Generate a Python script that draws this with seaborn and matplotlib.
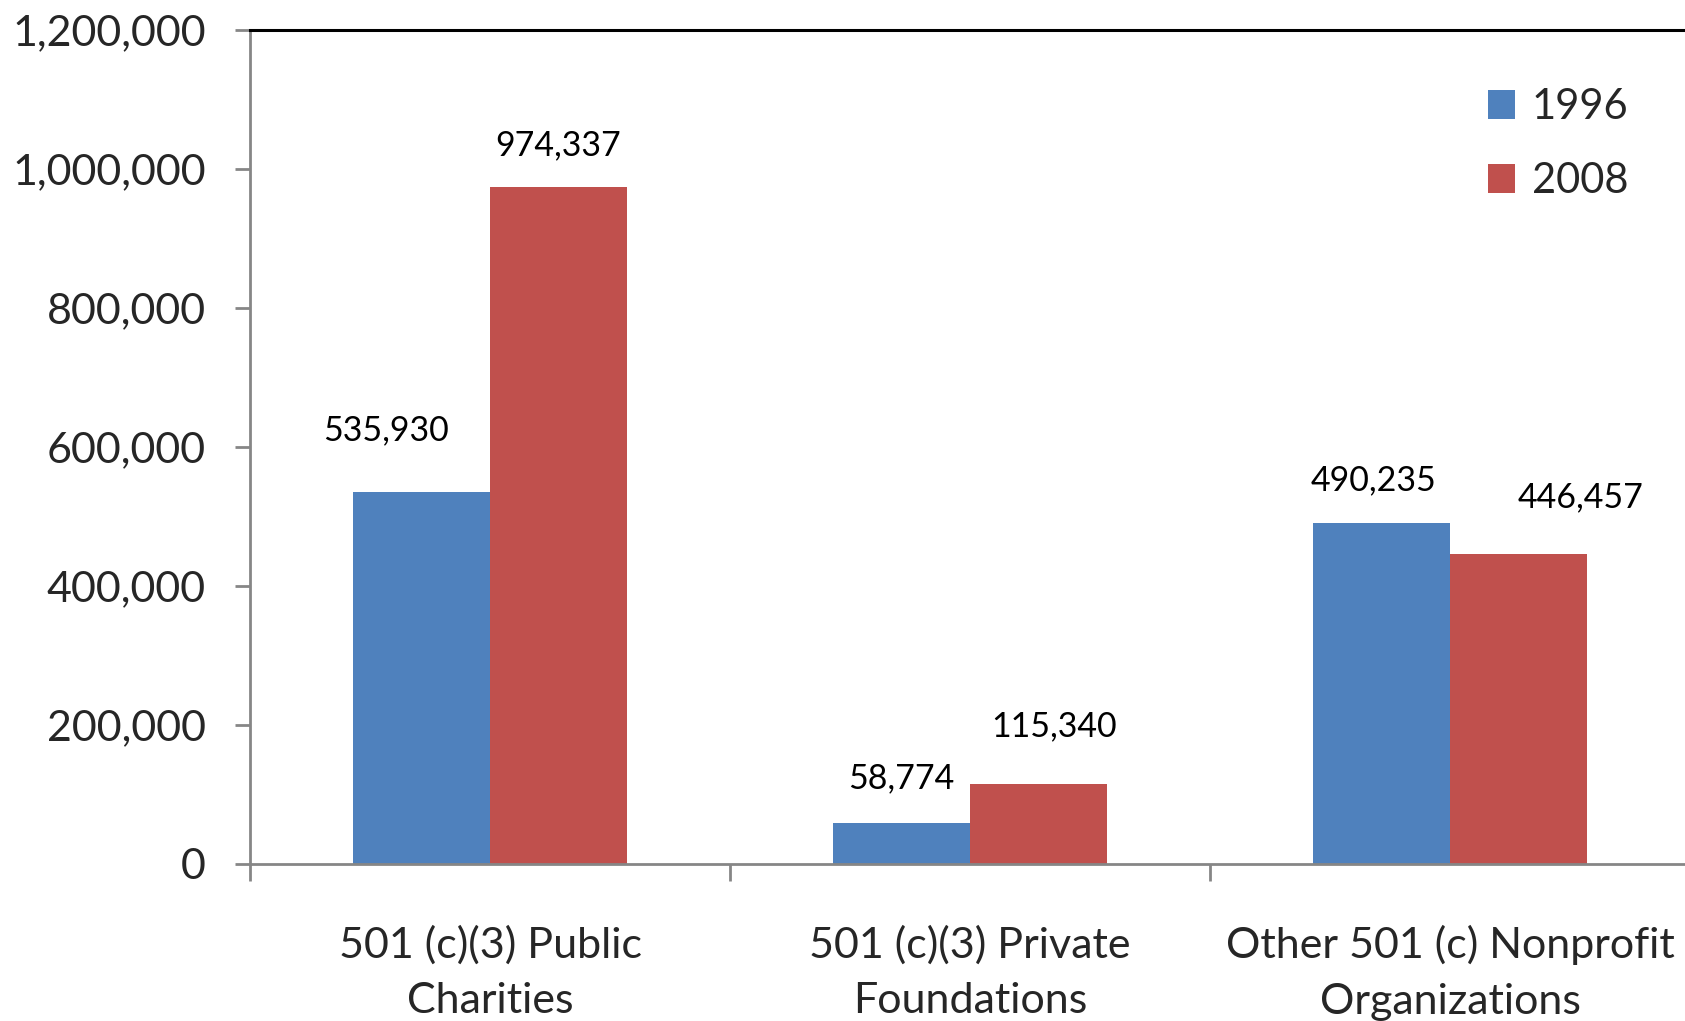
import pandas as pd
import numpy as np
import matplotlib
matplotlib.use('Agg')
import matplotlib.pyplot as plt
import seaborn as sns
from matplotlib.ticker import FuncFormatter, FixedLocator

categories = ['501 (c)(3) Public\nCharities',
              '501 (c)(3) Private\nFoundations',
              'Other 501 (c) Nonprofit\nOrganizations']
years = ['1996', '2008']
counts_1996 = [535930, 58774, 490235]
counts_2008 = [974337, 115340, 446457]

# hand-placed label offsets (pixels), like the original chart
label_offsets = {
    '1996': [(-36, 61), (0, 45), (-8, 43)],
    '2008': [(0, 42), (16, 58), (62, 56)],
}

df = pd.DataFrame({
    'Category': categories * 2,
    'Year': [years[0]] * 3 + [years[1]] * 3,
    'Count': counts_1996 + counts_2008,
})

sns.set_style('white')
plt.rcParams['font.family'] = ['Lato', 'DejaVu Sans']

fig = plt.figure(figsize=(16.85, 10.21), dpi=100)
ax = fig.add_axes([0.1484, 0.1538, 0.8546, 0.8168])

sns.barplot(data=df, x='Category', y='Count', hue='Year',
            palette=['#4F81BD', '#C0504D'], width=0.57, saturation=1,
            ax=ax, errorbar=None, linewidth=0)

ax.set_xlim(-0.5, 2.5)
ax.set_ylim(0, 1200000)
ax.yaxis.set_major_locator(FixedLocator(np.arange(0, 1200001, 200000)))
ax.yaxis.set_major_formatter(FuncFormatter(lambda v, p: f'{v:,.0f}'))
ax.set_xlabel('')
ax.set_ylabel('')

for s in ['left', 'bottom']:
    ax.spines[s].set_color('#868686')
    ax.spines[s].set_linewidth(2)
ax.spines['top'].set_color('black')
ax.spines['top'].set_linewidth(2.2)
ax.spines['right'].set_visible(False)

ax.tick_params(axis='y', length=11, width=2, color='#868686', pad=21,
               labelsize=31, left=True)
ax.set_xticks(range(len(categories)), labels=categories, linespacing=1.57)
ax.tick_params(axis='x', which='major', length=0, pad=44, labelsize=31)
ax.set_xticks([-0.5, 0.5, 1.5, 2.5], minor=True)
ax.tick_params(axis='x', which='minor', length=12, width=2, color='#868686',
               bottom=True)

for cont, yr in zip(ax.containers, years):
    for bar, (dx, dy) in zip(cont, label_offsets[yr]):
        ax.annotate(f'{bar.get_height():,.0f}',
                    (bar.get_x() + bar.get_width() / 2, bar.get_height()),
                    xytext=(dx, dy), textcoords='offset pixels',
                    ha='center', va='center', fontsize=24.5, color='black')

handles, labels = ax.get_legend_handles_labels()
ax.legend(handles, labels, loc='upper left', bbox_to_anchor=(0.883, 0.914),
          bbox_transform=fig.transFigure, frameon=False, fontsize=30,
          handlelength=0.65, handleheight=0.7, handletextpad=0.4,
          labelspacing=0.88, borderpad=0, borderaxespad=0)

fig.savefig('out.png', dpi=100)
